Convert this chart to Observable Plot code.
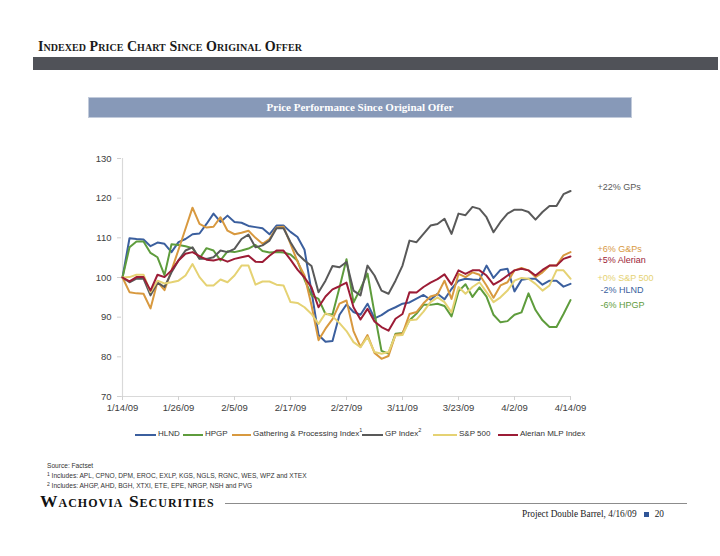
<!DOCTYPE html>
<html><head><meta charset="utf-8">
<script src="https://cdn.jsdelivr.net/npm/d3@7"></script>
<script src="https://cdn.jsdelivr.net/npm/@observablehq/plot@0.6"></script>
<style>
html,body{margin:0;padding:0;background:#fff}
body{width:720px;height:556px;position:relative;overflow:hidden;font-family:"Liberation Sans",Arial,sans-serif}
#title{position:absolute;left:38px;top:39px;font-family:"Liberation Serif",serif;font-weight:bold;font-variant:small-caps;font-size:14px;color:#1a1a1a;letter-spacing:0.05px;white-space:nowrap}
#band{position:absolute;left:33px;top:57px;width:685px;height:13px;background:#505258}
#hdr{position:absolute;left:88px;top:97px;width:542px;height:19px;background:#8799b8;border:1px solid #c2cbdb;color:#fff;font-family:"Liberation Serif",serif;font-weight:bold;font-size:11px;text-align:center;line-height:19px}
#chart{position:absolute;left:0;top:140px}
.leg{position:absolute;top:429px;font-size:8px;color:#333;white-space:nowrap;line-height:10px}
.sw{position:absolute;top:433.5px;height:2px}
.note{position:absolute;left:47px;font-size:6.6px;color:#333;line-height:8px;white-space:nowrap}
.note sup{font-size:5px;vertical-align:2px;line-height:0}
#logo{position:absolute;left:40px;top:495px;font-family:"Liberation Serif",serif;font-weight:bold;font-variant:small-caps;font-size:17.5px;line-height:12px;color:#111;letter-spacing:1px;white-space:nowrap}
#rule{position:absolute;left:225px;top:503px;width:462px;height:1px;background:#8c8c8c}
#foot{position:absolute;left:522px;top:509px;font-family:"Liberation Serif",serif;font-size:9.3px;color:#222;white-space:nowrap}
#foot .sq{display:inline-block;width:5px;height:5px;background:#2f5597;margin:0 6px 0 7px;vertical-align:0px}
</style></head><body>
<div id="title">Indexed Price Chart Since Original Offer</div>
<div id="band"></div>
<div id="hdr">Price Performance Since Original Offer</div>
<div id="chart"></div>
<div id="legend"></div>
<div class="note" style="top:462px">Source: Factset</div>
<div class="note" style="top:472px"><sup>1</sup> Includes: APL, CPNO, DPM, EROC, EXLP, KGS, NGLS, RGNC, WES, WPZ and XTEX</div>
<div class="note" style="top:482px"><sup>2</sup> Includes: AHGP, AHD, BGH, XTXI, ETE, EPE, NRGP, NSH and PVG</div>
<div id="logo">Wachovia Securities</div>
<div id="rule"></div>
<div id="foot">Project Double Barrel, 4/16/09<span class="sq"></span>20</div>
<script>
// ---- data ----
const dates = ["1/14/09","1/15/09","1/16/09","1/19/09","1/20/09","1/21/09","1/22/09","1/23/09","1/26/09","1/27/09","1/28/09","1/29/09","1/30/09",
"2/2/09","2/3/09","2/4/09","2/5/09","2/6/09","2/9/09","2/10/09","2/11/09","2/12/09","2/13/09","2/16/09","2/17/09","2/18/09","2/19/09","2/20/09","2/23/09","2/24/09","2/25/09","2/26/09","2/27/09",
"3/2/09","3/3/09","3/4/09","3/5/09","3/6/09","3/9/09","3/10/09","3/11/09","3/12/09","3/13/09","3/16/09","3/17/09","3/18/09","3/19/09","3/20/09","3/23/09","3/24/09","3/25/09","3/26/09","3/27/09","3/30/09","3/31/09",
"4/1/09","4/2/09","4/3/09","4/6/09","4/7/09","4/8/09","4/9/09","4/10/09","4/13/09","4/14/09"];
const xTickLabels = ["1/14/09","1/26/09","2/5/09","2/17/09","2/27/09","3/11/09","3/23/09","4/2/09","4/14/09"];
const yTickValues = [70,80,90,100,110,120,130];
const seriesNames = ["HLND","HPGP","Gathering & Processing Index","GP Index","S&P 500","Alerian MLP Index"];
const legendLabels = ["HLND","HPGP","Gathering & Processing Index<sup>1</sup>","GP Index<sup>2</sup>","S&P 500","Alerian MLP Index"];
const endLabels = ["-2% HLND","-6% HPGP","+6% G&Ps","+22% GPs","+0% S&P 500","+5% Alerian"];

const hlnd = [100,109.9,109.7,109.6,107.9,108.8,108.5,106.4,108.9,109.7,110.9,111.1,113.5,116.1,114.0,115.6,114.0,113.8,113.0,112.7,112.4,110.9,113.1,113.1,111.5,110.2,107.0,96.5,85.5,83.8,84.0,90.6,93.2,91.3,90.6,93.4,89.7,90.5,91.7,92.5,93.4,93.7,94.7,95.6,94.4,95.9,94.5,97.1,99.2,99.7,99.5,99.4,103.0,99.9,101.9,102.2,96.5,99.4,99.7,99.7,98.2,99.2,99.2,97.7,98.4];
const hpgp = [100,107.6,109.1,109.1,106.2,105.1,100.6,108.4,108.2,107.9,107.4,104.8,107.4,106.8,104.3,106.6,106.4,106.8,107.3,108.2,106.7,106.3,106.4,106.3,105.8,104.2,99.5,95.5,94.6,90.8,90.7,97.5,104.6,93.7,97.2,101.0,91.0,81.5,80.8,85.8,86.0,89.2,90.9,93.1,93.1,93.4,92.8,90.2,96.5,98.3,95.1,97.5,95.2,90.6,88.7,89.0,90.6,91.2,96.0,91.8,89.2,87.5,87.5,90.8,94.3];
const gatheringProcessing = [100,96.3,96.0,95.9,92.2,98.9,96.8,101.8,107.0,112.3,117.6,113.5,112.6,112.8,115.2,111.8,110.9,111.3,111.8,110.0,108.5,109.7,112.6,112.8,108.5,104.0,100.5,93.0,84.2,87.1,89.5,93.4,94.2,86.5,82.5,85.5,81.0,79.5,80.2,85.6,85.8,90.8,91.3,93.5,95.2,95.7,99.2,94.6,100.9,100.1,101.3,100.7,98.0,94.9,98.0,98.8,101.8,102.4,101.8,100.1,101.3,103.0,103.0,105.6,106.4];
const gpIndex = [100,98.8,99.7,99.7,95.5,98.7,97.6,101.3,104.3,106.8,107.6,104.7,104.7,105.1,106.8,106.4,107.2,109.7,110.8,107.6,108.1,109.3,112.4,112.4,108.9,106.0,104.3,102.9,96.3,99.2,102.9,102.6,103.9,96.7,95.5,103.0,100.5,96.7,95.9,99.2,103.0,109.3,108.9,111.0,113.1,113.5,114.8,111.0,116.1,115.7,117.8,117.3,115.2,111.4,114.0,116.1,117.1,117.1,116.5,114.6,116.5,118.0,118.0,121.0,121.8];
const sp500 = [100,100.1,100.7,100.7,96.3,99.2,98.5,98.8,99.2,100.5,103.4,100.1,98.0,98.0,99.5,98.8,100.5,103.0,103.0,98.2,99.0,99.0,98.2,98.0,93.8,93.6,92.5,90.8,88.3,91.0,90.2,88.5,86.5,83.7,82.4,85.0,81.2,80.8,81.2,85.4,85.5,89.2,89.4,91.4,93.8,95.0,93.8,91.2,97.6,95.9,97.6,98.8,96.3,93.8,95.0,96.7,99.2,99.9,99.7,98.4,96.7,98.0,101.8,101.8,99.7];
const alerian = [100,99.0,100.1,100.1,96.7,100.7,100.1,101.8,104.3,106.0,106.4,105.4,104.5,104.3,104.7,104.0,104.7,105.1,105.5,104.0,103.9,105.5,106.8,106.8,104.5,102.0,100.0,97.5,92.5,95.2,97.0,97.8,98.7,92.5,89.4,92.1,88.9,87.5,86.6,89.6,90.8,96.3,96.2,97.6,98.7,99.6,100.8,98.2,101.8,100.9,101.8,101.8,100.5,98.2,99.2,100.5,101.8,102.2,101.8,100.5,101.9,103.0,103.0,104.7,105.3];

// ---- style ----
const colors = ["#3b5f9e","#5e9c3c","#d8993f","#595959","#e5d273","#9c1c36"];
const labelDx = [30,30,27,27,27,27];
const labelDy = [6,4.5,-3.5,-3.5,-1,3.5];

const seriesValues = [hlnd,hpgp,gatheringProcessing,gpIndex,sp500,alerian];
const rows = seriesNames.flatMap((s,k)=>seriesValues[k].map((v,i)=>({series:s,date:dates[i],value:v})));
const ends = seriesNames.map((s,k)=>({series:s,date:dates[dates.length-1],value:seriesValues[k][seriesValues[k].length-1],label:endLabels[k]}));

const chart = Plot.plot({
  width:720, height:290,
  marginLeft:121, marginRight:149, marginTop:18, marginBottom:34,
  style:{fontFamily:"'Liberation Sans',Arial,sans-serif", fontSize:"9.5px", color:"#404040", background:"transparent", overflow:"visible"},
  x:{type:"point", domain:dates, padding:0, axis:null},
  y:{domain:[70,130], axis:null},
  color:{domain:seriesNames, range:colors},
  marks:[
    Plot.ruleX([dates[0]], {stroke:"#d9d9d9", strokeWidth:1.2}),
    Plot.ruleY([70], {stroke:"#d9d9d9", strokeWidth:1.2}),
    Plot.axisY({ticks:yTickValues, tickSize:4, tickPadding:6, stroke:"#d0d0d0", fill:"#404040", label:null}),
    Plot.axisX({ticks:xTickLabels, tickSize:4, tickPadding:4, stroke:"#d0d0d0", fill:"#404040", label:null}),
    Plot.line(rows, {x:"date", y:"value", z:"series", stroke:"series", strokeWidth:2, strokeLinejoin:"round"}),
    ...ends.map((d,k)=>Plot.text([d], {x:"date", y:"value", text:"label", fill:colors[k], textAnchor:"start", dx:labelDx[k], dy:labelDy[k], fontSize:9}))
  ]
});
document.getElementById("chart").appendChild(chart);

// legend
const legX = [135,183,232,362,433,498];
const legW = [21,20,19,21,24,20];
const leg = document.getElementById("legend");
seriesNames.forEach((s,k)=>{
  const sw = document.createElement("div");
  sw.className="sw"; sw.style.left=legX[k]+"px"; sw.style.width=legW[k]+"px"; sw.style.background=colors[k];
  leg.appendChild(sw);
  const t = document.createElement("div");
  t.className="leg"; t.style.left=(legX[k]+legW[k]+2)+"px"; t.innerHTML=legendLabels[k].replace(/<sup>/g,'<sup style="font-size:5.5px;vertical-align:4px;line-height:0">');
  leg.appendChild(t);
});
</script>
</body></html>
